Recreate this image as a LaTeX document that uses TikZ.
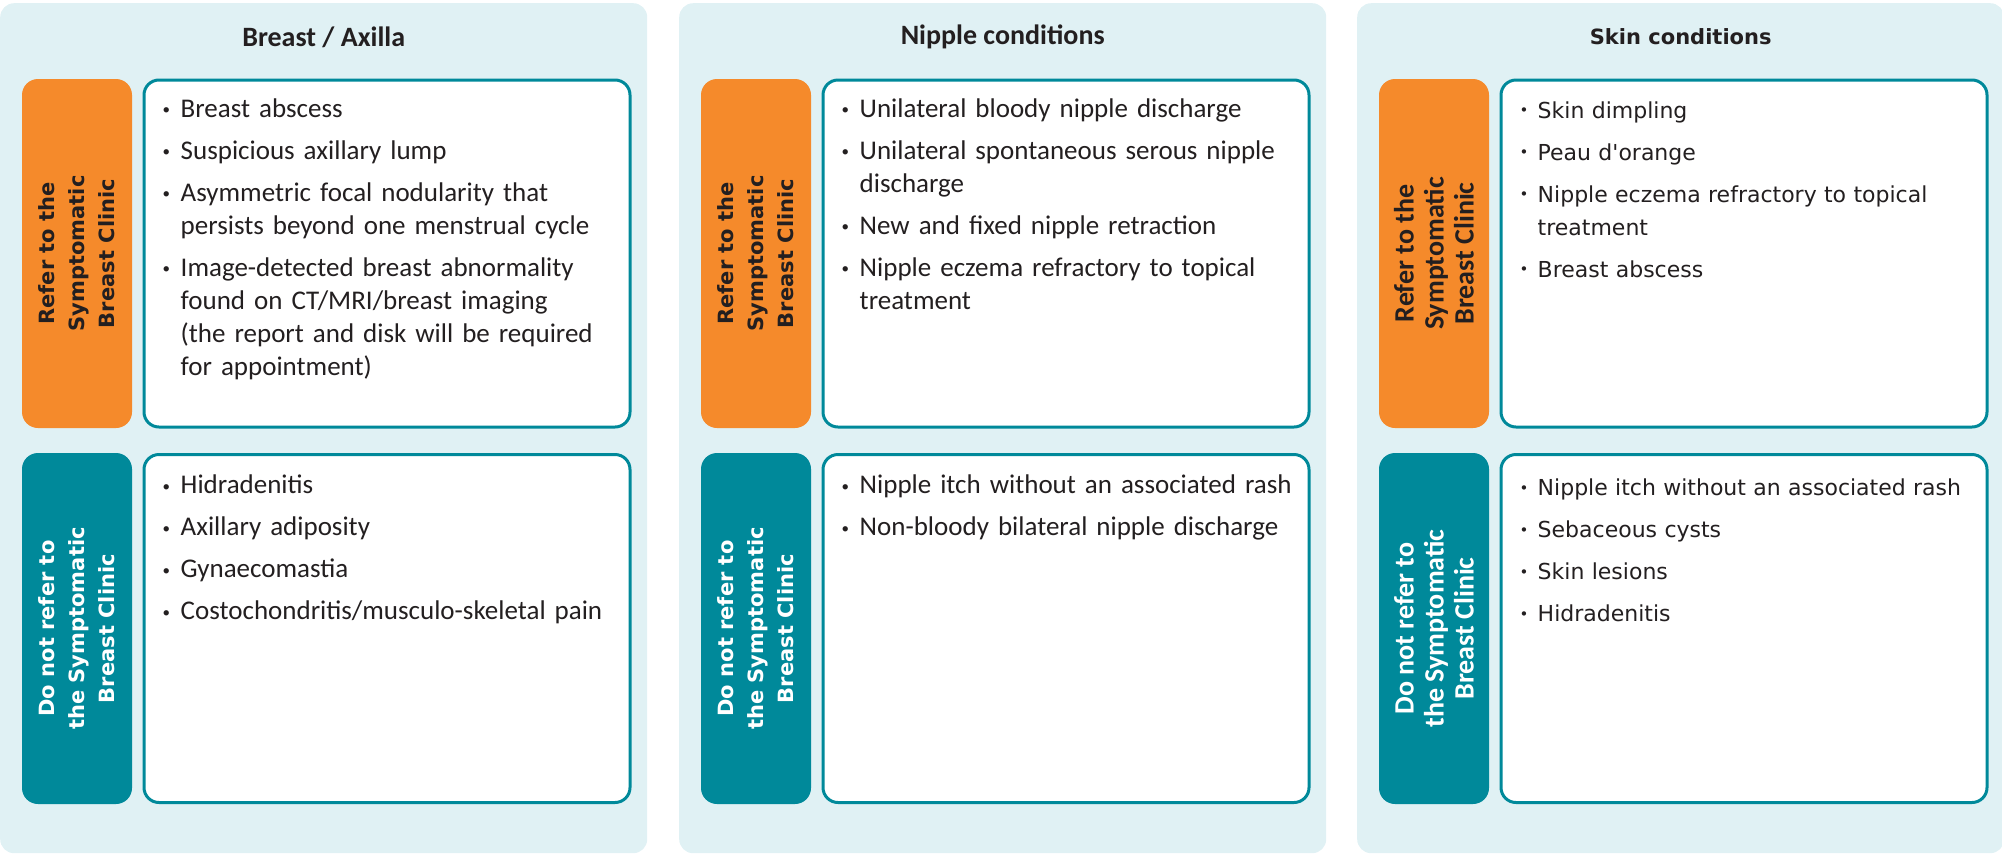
\documentclass[tikz,border=0pt]{standalone}
\usepackage{fontspec}
\setmainfont{Carlito}
\newfontfamily\widefont{DejaVu Sans}
\usetikzlibrary{positioning}

\definecolor{panelbg}{HTML}{E0F1F4}
\definecolor{referorange}{HTML}{F58A2B}
\definecolor{noteal}{HTML}{00899A}
\definecolor{inkdark}{HTML}{231F20}

\newcommand{\bul}[1]{\hangindent=19pt\hangafter=1\noindent\makebox[19pt][l]{\hspace{1pt}\raisebox{2.5pt}{\fontsize{15}{15}\selectfont\textbullet}}#1\par}

\tikzset{
  panel/.style={fill=panelbg, rounded corners=14pt, minimum width=647pt, minimum height=850pt, anchor=north west, inner sep=0pt},
  paneltitle/.style={text=inkdark, font=\fontsize{28}{33}\selectfont\bfseries},
  sidebox/.style={rotate=90, rounded corners=16pt, minimum width=349pt, minimum height=110pt, align=center, inner sep=0pt, font=\widefont\bfseries\fontsize{21}{30}\selectfont},
  referbox/.style={sidebox, fill=referorange, text=inkdark},
  notbox/.style={sidebox, fill=noteal, text=white, minimum width=351pt},
  listbox/.style={draw=noteal, line width=3pt, fill=white, rounded corners=15pt, minimum width=486pt, minimum height=347pt},
  listtext/.style={anchor=north west, inner sep=0pt, text width=460pt, align=left, text=inkdark, font=\fontsize{27}{33}\selectfont\setlength{\parskip}{9pt}}
}

\begin{document}
\begin{tikzpicture}[x=1pt, y=-1pt]
  \useasboundingbox (0,0) rectangle (2002,855);

  % Breast / Axilla
  \node[panel] (p1) at (0,3) {};
  \node[paneltitle] (p1title) at ([yshift=-34pt]p1.north) {Breast / Axilla};
  \node[referbox] (p1refer) at (77,253.5) {Refer to the\\Symptomatic\\Breast Clinic};
  \node[listbox] (p1top) at (387,253.5) {};
  \node[listtext, below right=20pt and 19pt of p1top.north west] (p1toplist) {%
    \bul{Breast abscess}
    \bul{Suspicious axillary lump}
    \bul{Asymmetric focal nodularity that\newline persists beyond one menstrual cycle}
    \bul{Image-detected breast abnormality\newline found on CT/MRI/breast imaging\newline (the report and disk will be required\newline for appointment)}};
  \node[notbox] (p1not) at (77,628.5) {Do not refer to\\the Symptomatic\\Breast Clinic};
  \node[listbox, minimum height=348pt] (p1bot) at (387,628.5) {};
  \node[listtext, below right=22pt and 19pt of p1bot.north west] (p1botlist) {%
    \bul{Hidradenitis}
    \bul{Axillary adiposity}
    \bul{Gynaecomastia}
    \bul{Costochondritis/musculo-skeletal pain}};

  % Nipple conditions
  \node[panel] (p2) at (679,3) {};
  \node[paneltitle] (p2title) at ([yshift=-34pt]p2.north) {Nipple conditions};
  \node[referbox] (p2refer) at (756,253.5) {Refer to the\\Symptomatic\\Breast Clinic};
  \node[listbox] (p2top) at (1066,253.5) {};
  \node[listtext, below right=20pt and 19pt of p2top.north west] (p2toplist) {%
    \bul{Unilateral bloody nipple discharge}
    \bul{Unilateral spontaneous serous nipple\newline discharge}
    \bul{New and fixed nipple retraction}
    \bul{Nipple eczema refractory to topical\newline treatment}};
  \node[notbox] (p2not) at (756,628.5) {Do not refer to\\the Symptomatic\\Breast Clinic};
  \node[listbox, minimum height=348pt] (p2bot) at (1066,628.5) {};
  \node[listtext, below right=22pt and 19pt of p2bot.north west] (p2botlist) {%
    \bul{Nipple itch without an associated rash}
    \bul{Non-bloody bilateral nipple discharge}};

  % Skin conditions
  \node[panel] (p3) at (1357,3) {};
  \node[paneltitle, font=\widefont\bfseries\fontsize{21}{33}\selectfont] (p3title) at ([yshift=-34pt]p3.north) {Skin conditions};
  \node[referbox, font=\bfseries\fontsize{28}{30}\selectfont] (p3refer) at (1434,253.5) {Refer to the\\Symptomatic\\Breast Clinic};
  \node[listbox] (p3top) at (1744,253.5) {};
  \node[listtext, font=\widefont\fontsize{22}{33}\selectfont\setlength{\parskip}{9pt}, below right=23pt and 19pt of p3top.north west] (p3toplist) {%
    \bul{Skin dimpling}
    \bul{Peau d\textquotesingle orange}
    \bul{Nipple eczema refractory to topical\newline treatment}
    \bul{Breast abscess}};
  \node[notbox, font=\bfseries\fontsize{28}{30}\selectfont] (p3not) at (1434,628.5) {Do not refer to\\the Symptomatic\\Breast Clinic};
  \node[listbox, minimum height=348pt] (p3bot) at (1744,628.5) {};
  \node[listtext, font=\widefont\fontsize{22}{33}\selectfont\setlength{\parskip}{9pt}, below right=26pt and 19pt of p3bot.north west] (p3botlist) {%
    \bul{Nipple itch without an associated rash}
    \bul{Sebaceous cysts}
    \bul{Skin lesions}
    \bul{Hidradenitis}};
\end{tikzpicture}
\end{document}
